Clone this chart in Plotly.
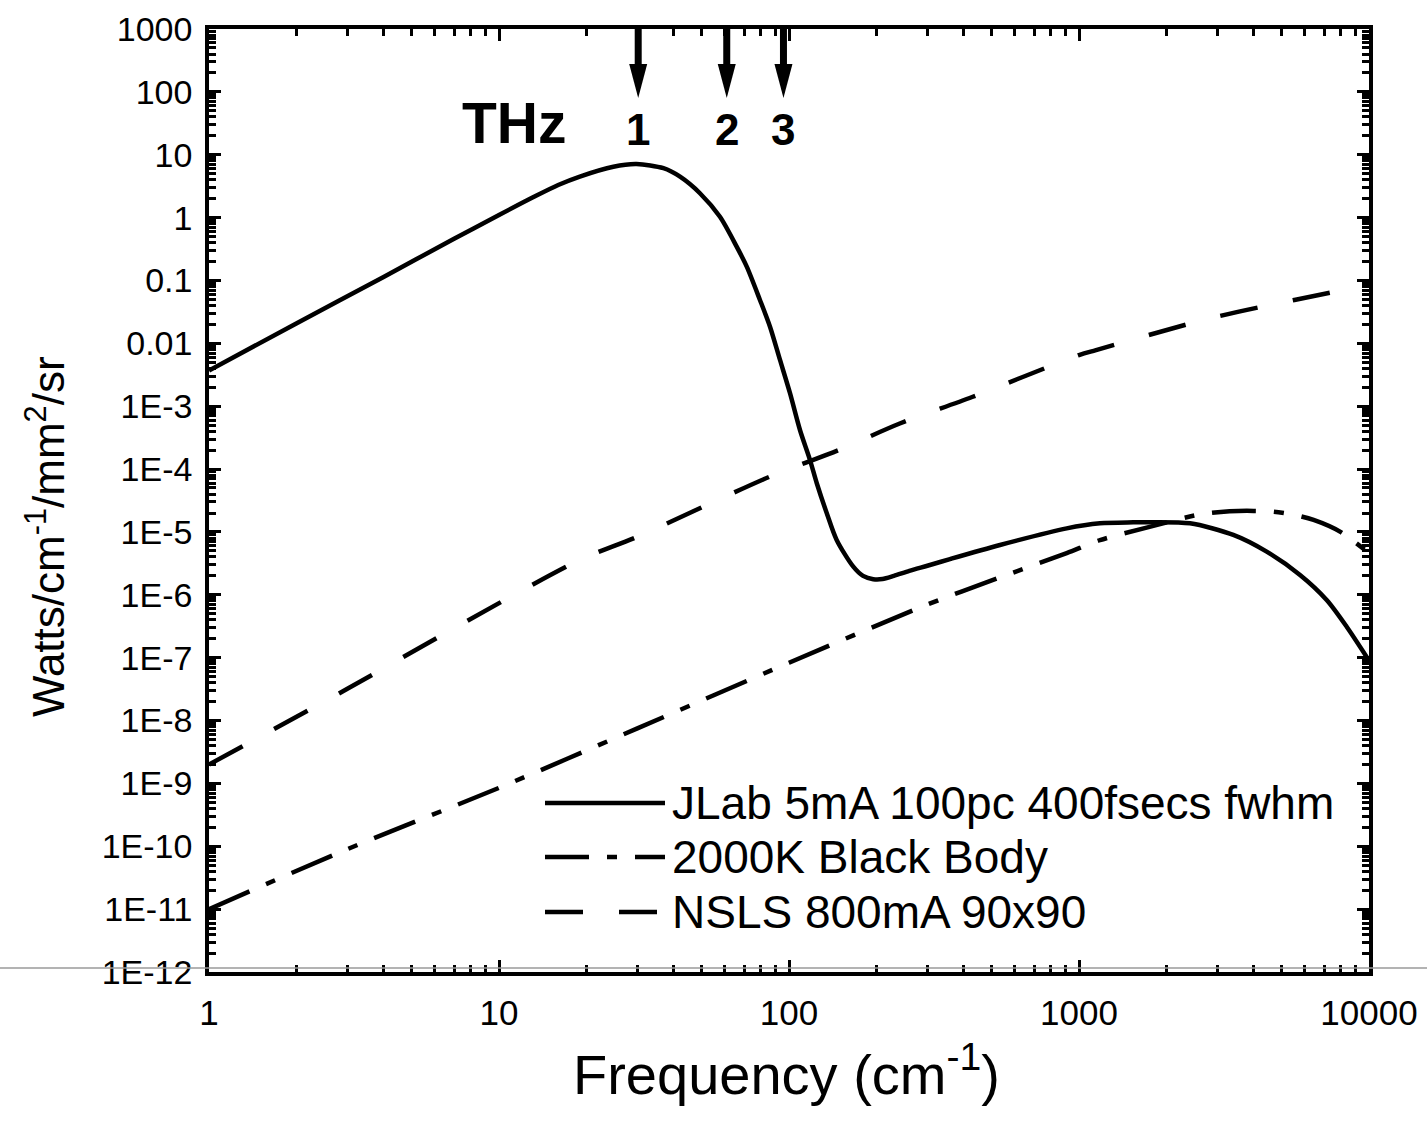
import numpy as np
import plotly.graph_objects as go

# ---------------- data ----------------
freq_jlab = [1, 2, 4, 7, 10, 13.1, 16, 19, 24.8, 29.8, 36.9, 42.1, 49.3, 57.8, 66.0,
             71.5, 79.4, 86.0, 93.1, 100.8, 109.1, 118.1, 124.6, 134.9, 146, 166.6, 180,
             195.3, 210, 230, 260, 300, 359, 534, 907, 1181, 1540, 1757, 2414, 3405,
             4438, 5783, 7146, 8376, 10000]
val_jlab = [3.7e-3, 0.0207, 0.114, 0.46, 1.1, 2.1, 3.3, 4.5, 6.45, 7.1, 6.1, 4.47, 2.44,
            1.03, 0.345, 0.166, 0.049, 0.0184, 5.44e-3, 1.61e-3, 4.18e-4, 1.40e-4, 6.0e-5,
            2.0e-5, 7.45e-6, 2.8e-6, 2.0e-6, 1.77e-6, 1.78e-6, 2.0e-6, 2.4e-6, 2.9e-6,
            3.7e-6, 6.2e-6, 1.14e-5, 1.37e-5, 1.42e-5, 1.43e-5, 1.37e-5, 8.95e-6,
            4.85e-6, 2.07e-6, 8.28e-7, 3.11e-7, 9.0e-8]

freq_bb = [1, 3, 10, 30, 100, 300, 563, 907, 1181, 1711, 2614, 3307, 4000, 4677, 5500,
           6440, 7943, 10000]
val_bb = [1.0e-11, 9.0e-11, 8.5e-10, 7.5e-9, 8.3e-8, 7.0e-7, 2.07e-6, 4.6e-6, 7.4e-6,
          1.17e-5, 1.9e-5, 2.13e-5, 2.16e-5, 2.1e-5, 1.88e-5, 1.55e-5, 1.01e-5, 4.6e-6]

freq_nsls = [1, 3, 7.15, 19, 30, 86, 148, 241, 428, 1000, 1145, 2830, 5530, 10000]
val_nsls = [2.0e-9, 3.2e-8, 3.1e-7, 3.6e-6, 8.4e-6, 7.6e-5, 2.0e-4, 5.3e-4, 1.4e-3,
            6.5e-3, 7.8e-3, 0.025, 0.049, 0.085]

series_names = ["JLab 5mA 100pc 400fsecs fwhm", "2000K Black Body", "NSLS 800mA 90x90"]

ytick_vals = [1e-12, 1e-11, 1e-10, 1e-9, 1e-8, 1e-7, 1e-6, 1e-5, 1e-4, 1e-3, 1e-2, 1e-1,
              1, 10, 100, 1000]
ytick_text = ["1E-12", "1E-11", "1E-10", "1E-9", "1E-8", "1E-7", "1E-6", "1E-5", "1E-4",
              "1E-3", "0.01", "0.1", "1", "10", "100", "1000"]
xtick_vals = [1, 10, 100, 1000, 10000]
xtick_text = ["1", "10", "100", "1000", "10000"]

thz_freqs = [30.2, 61.0, 95.7]
thz_labels = ["1", "2", "3"]

# ---------------- layout geometry ----------------
W, H = 1427, 1132
L, R, T, B = 209, 1369, 29, 972
PW, PH = R - L, B - T
XR = [0, 4]
YR = [-12, 3]
FONT = "Arial, Liberation Sans, sans-serif"


def px_x(px):
    return (px - L) / PW


def px_y(py):
    return (B - py) / PH


def fx(f):
    return (np.log10(f) - XR[0]) / (XR[1] - XR[0])


styles = [dict(dash="solid"), dict(dash="44px,18px,10px,18px"), dict(dash="38px,36px")]
series = [(freq_jlab, val_jlab), (freq_bb, val_bb), (freq_nsls, val_nsls)]

fig = go.Figure()
for (fx_, fy_), name, st in zip(series, series_names, styles):
    fig.add_trace(go.Scatter(
        x=fx_, y=fy_, mode="lines", name=name, showlegend=False,
        line=dict(color="black", width=4.5, dash=st["dash"], shape="spline", smoothing=0.8),
    ))

minor_x = [k * 10 ** n for n in range(0, 4) for k in range(2, 10)]
minor_y = [k * 10.0 ** n for n in range(-12, 3) for k in range(2, 10)]

axis_common = dict(
    showline=True, linecolor="black", linewidth=3.5, mirror="allticks",
    ticks="inside", ticklen=12, tickwidth=3, tickcolor="black",
    showgrid=False, zeroline=False, tickmode="array", automargin=False,
)

fig.update_xaxes(type="log", range=XR, tickvals=xtick_vals, ticktext=xtick_text,
                 tickfont=dict(family=FONT, size=35, color="black"), ticklabelstandoff=7,
                 minor=dict(ticks="inside", ticklen=7, tickwidth=2.5, tickcolor="black",
                            tickmode="array", tickvals=minor_x, showgrid=False),
                 **axis_common)
fig.update_yaxes(type="log", range=YR, tickvals=ytick_vals, ticktext=ytick_text,
                 tickfont=dict(family=FONT, size=34, color="black"), ticklabelstandoff=6,
                 minor=dict(ticks="inside", ticklen=7, tickwidth=2.5, tickcolor="black",
                            tickmode="array", tickvals=minor_y, showgrid=False),
                 **axis_common)

shapes = []
annotations = []

# THz arrows
for f, lab in zip(thz_freqs, thz_labels):
    xc = fx(f)
    shapes.append(dict(type="line", xref="paper", yref="paper", x0=xc, x1=xc,
                       y0=px_y(T), y1=px_y(72), line=dict(color="black", width=7)))
    hw = 9 / PW
    path = "M {a},{b} L {c},{b} L {d},{e} Z".format(
        a=xc - hw, b=px_y(64), c=xc + hw, d=xc, e=px_y(98))
    shapes.append(dict(type="path", xref="paper", yref="paper", path=path,
                       fillcolor="black", line=dict(width=0)))
    annotations.append(dict(x=np.log10(f), y=px_y(129), xref="x", yref="paper",
                            text="<b>%s</b>" % lab, showarrow=False,
                            font=dict(family=FONT, size=44, color="black"),
                            xanchor="center", yanchor="middle"))

annotations.append(dict(x=px_x(514), y=px_y(123), xref="paper", yref="paper",
                        text="<b>THz</b>", showarrow=False,
                        font=dict(family=FONT, size=57, color="black"),
                        xanchor="center", yanchor="middle"))

# manual legend
leg_rows = [803, 857, 912]
for name, st, ry in zip(series_names, styles, leg_rows):
    shapes.append(dict(type="line", xref="paper", yref="paper",
                       x0=px_x(545), x1=px_x(665), y0=px_y(ry), y1=px_y(ry),
                       line=dict(color="black", width=4.5, dash=st["dash"])))
    annotations.append(dict(x=px_x(670), y=px_y(ry), xref="paper", yref="paper",
                            text=name, showarrow=False, xanchor="left", yanchor="middle",
                            font=dict(family=FONT, size=46, color="black")))

# axis titles
annotations.append(dict(x=px_x(45), y=px_y(537), xref="paper", yref="paper",
                        text="Watts/cm<sup>-1</sup>/mm<sup>2</sup>/sr", textangle=-90,
                        showarrow=False, xanchor="center", yanchor="middle",
                        font=dict(family=FONT, size=44, color="black")))
annotations.append(dict(x=px_x(786), y=px_y(1070), xref="paper", yref="paper",
                        text="Frequency (cm<sup>-1</sup>)", showarrow=False,
                        xanchor="center", yanchor="middle",
                        font=dict(family=FONT, size=56, color="black")))

# faint scan line across the page
shapes.append(dict(type="line", xref="paper", yref="paper", x0=px_x(0), x1=px_x(W),
                   y0=px_y(968), y1=px_y(968), line=dict(color="#9a9a9a", width=1.5)))

fig.update_layout(
    width=W, height=H,
    margin=dict(l=L, r=W - R, t=T, b=H - B, pad=0),
    paper_bgcolor="white", plot_bgcolor="white",
    shapes=shapes, annotations=annotations,
    showlegend=False,
    font=dict(family=FONT, color="black"),
)

fig.write_html("out.html")
